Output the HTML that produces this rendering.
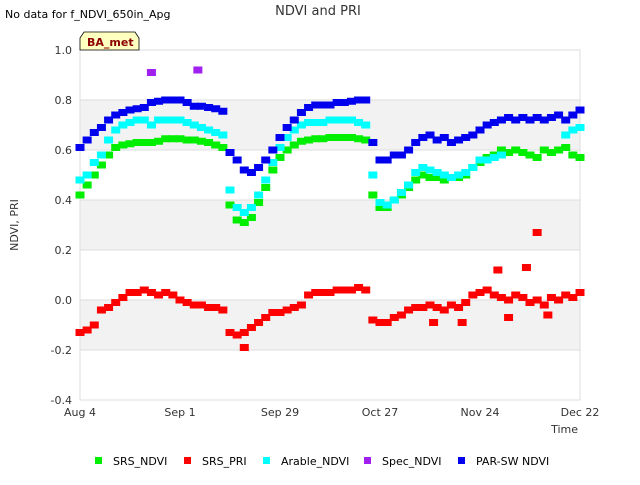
<!DOCTYPE html>
<html><head><meta charset="utf-8"><style>
body{margin:0;background:#fff;font-family:"Liberation Sans","DejaVu Sans",sans-serif}
svg text{font-family:"DejaVu Sans","Liberation Sans",sans-serif}
</style></head><body>
<svg id="c" width="640" height="480" xmlns="http://www.w3.org/2000/svg">
<rect width="640" height="480" fill="#fff"/>
<g id="bands"></g>
<g id="grid"></g>
<rect x="80" y="50" width="500" height="350" fill="none" stroke="#ddd"/>
<g id="marks"></g>
<g id="axes"></g>
<text x="5" y="18" font-size="11" fill="#000">No data for f_NDVI_650in_Apg</text>
<text x="318" y="15" font-size="13" fill="#333" text-anchor="middle">NDVI and PRI</text>
<g>
<path d="M80,50 L80,38 L84,32 L135,32 L139,38 L139,50 Z" fill="#ffffc0" stroke="#000" stroke-width="0.8"/>
<text x="87" y="46" font-size="11" font-weight="bold" fill="#8b0000">BA_met</text>
</g>
<text x="18" y="225" font-size="11" fill="#333" text-anchor="middle" transform="rotate(-90 18 225)">NDVI, PRI</text>
<text x="578" y="433" font-size="11" fill="#333" text-anchor="end">Time</text>
<g id="legend"></g>
</svg>
<script>
const days=[];for(let d=0;d<=140;d+=2)days.push(d);
const srsNdvi=[0.42,0.46,0.50,0.54,0.58,0.61,0.62,0.625,0.63,0.63,0.63,0.635,0.645,0.645,0.645,0.64,0.64,0.635,0.63,0.62,0.61,0.38,0.32,0.31,0.33,0.39,0.45,0.52,0.57,0.60,0.62,0.635,0.64,0.645,0.645,0.65,0.65,0.65,0.65,0.645,0.64,0.42,0.37,0.37,0.40,0.42,0.45,0.48,0.50,0.49,0.49,0.48,0.49,0.49,0.50,0.53,0.55,0.57,0.58,0.60,0.59,0.60,0.59,0.58,0.57,0.60,0.59,0.60,0.61,0.58,0.57];
const arableNdvi=[0.48,0.50,0.55,0.58,0.64,0.68,0.70,0.71,0.72,0.72,0.70,0.72,0.72,0.72,0.72,0.71,0.70,0.69,0.68,0.67,0.66,0.44,0.37,0.35,0.37,0.42,0.48,0.55,0.61,0.65,0.68,0.70,0.71,0.71,0.71,0.72,0.72,0.72,0.72,0.71,0.70,0.50,0.39,0.38,0.40,0.43,0.46,0.51,0.53,0.52,0.51,0.50,0.49,0.50,0.51,0.53,0.56,0.56,0.57,0.58,null,null,null,null,null,null,null,null,0.66,0.68,0.69];
const parNdvi=[0.61,0.64,0.67,0.69,0.72,0.74,0.75,0.76,0.765,0.77,0.79,0.795,0.80,0.80,0.80,0.79,0.775,0.775,0.77,0.765,0.755,0.59,0.56,0.52,0.51,0.53,0.56,0.60,0.65,0.69,0.72,0.75,0.77,0.78,0.78,0.78,0.79,0.79,0.795,0.80,0.80,0.63,0.56,0.56,0.58,0.58,0.60,0.63,0.65,0.66,0.64,0.65,0.63,0.64,0.65,0.66,0.68,0.70,0.71,0.72,0.73,0.72,0.73,0.72,0.73,0.72,0.73,0.74,0.72,0.74,0.76];
const srsPri=[-0.13,-0.12,-0.10,-0.04,-0.03,-0.01,0.01,0.03,0.03,0.04,0.03,0.02,0.03,0.02,0.00,-0.01,-0.02,-0.02,-0.03,-0.03,-0.04,-0.13,-0.14,-0.13,-0.11,-0.09,-0.07,-0.05,-0.05,-0.04,-0.03,-0.02,0.02,0.03,0.03,0.03,0.04,0.04,0.04,0.05,0.04,-0.08,-0.09,-0.09,-0.07,-0.06,-0.04,-0.03,-0.03,-0.02,-0.03,-0.04,-0.02,-0.03,-0.01,0.02,0.03,0.04,0.02,0.01,0.00,0.02,0.01,-0.01,0.00,-0.02,0.01,0.00,0.02,0.01,0.03];
const priExtraDays=[46,99,107,117,120,128,125,131];
const priExtraVals=[-0.19,-0.09,-0.09,0.12,-0.07,0.27,0.13,-0.06];
const specDays=[20,33];
const specVals=[0.91,0.92];
const yTicks=[1.0,0.8,0.6,0.4,0.2,0.0,-0.2,-0.4];
const yTickLabels=["1.0","0.8","0.6","0.4","0.2","0.0","-0.2","-0.4"];
const xTickDays=[0,28,56,84,112,140];
const xTickLabels=["Aug 4","Sep 1","Sep 29","Oct 27","Nov 24","Dec 22"];
const NS="http://www.w3.org/2000/svg";
const X=d=>80+d*500/140, Y=v=>300-v*250;
function mk(t,a,p){const e=document.createElementNS(NS,t);for(const k in a)e.setAttribute(k,a[k]);p.appendChild(e);return e;}
const bands=document.getElementById('bands');
[[0.8,0.6],[0.4,0.2],[0,-0.2]].forEach(b=>{
 const r=mk('rect',{x:80,y:Y(b[0]),width:500,height:Y(b[1])-Y(b[0]),fill:'#f2f2f2'},bands);
 
 
});
const grid=document.getElementById('grid'),axes=document.getElementById('axes');
yTicks.forEach((v,i)=>{
 const l=mk('line',{x1:80,x2:580,y1:Y(v),y2:Y(v),stroke:'#ddd'},grid);
 
 
 const t=mk('text',{x:72,y:Y(v)+4,'font-size':11,fill:'#333','text-anchor':'end'},axes);
 t.textContent=yTickLabels[i];
 
 
});
xTickDays.forEach((d,i)=>{
 const t=mk('text',{x:X(d),y:416,'font-size':11,fill:'#333','text-anchor':'middle'},axes);
 t.textContent=xTickLabels[i];
 
 
});
const marks=document.getElementById('marks');
function series(ds,vs,col,name){
 const g=mk('g',{fill:col},marks);
 
 
 ds.forEach((d,i)=>{const v=vs[i];if(v==null)return;
  const r=mk('rect',{x:X(d)-4.5,y:Y(v)-3.5,width:9,height:7},g);
  
  
 });
}
series(days,srsPri,'#ff0000','srs-pri');
series(priExtraDays,priExtraVals,'#ff0000','srs-pri-extra');
series(days,srsNdvi,'#00ee00','srs-ndvi');
series(days,arableNdvi,'#00ffff','arable-ndvi');
series(days,parNdvi,'#0000ee','par-sw-ndvi');
series(specDays,specVals,'#a020f0','spec-ndvi');
const leg=document.getElementById('legend');
[["SRS_NDVI","#00ee00",95],["SRS_PRI","#ff0000",184],["Arable_NDVI","#00ffff",263],["Spec_NDVI","#a020f0",364],["PAR-SW NDVI","#0000ee",458]].forEach(e=>{
 const g=mk('g',{},leg);
 
 
 mk('rect',{x:e[2],y:457,width:7,height:7,fill:e[1]},g);
 const t=mk('text',{x:e[2]+18,y:465,'font-size':11,fill:'#000'},g);t.textContent=e[0];
});
</script>
</body></html>
